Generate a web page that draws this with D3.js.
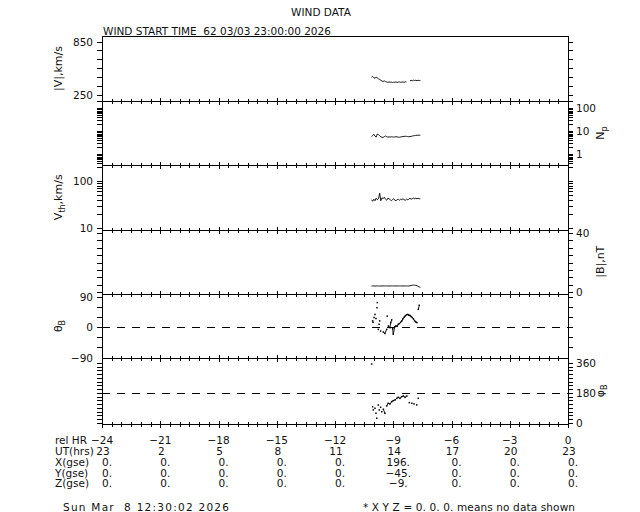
<!DOCTYPE html>
<html><head><meta charset="utf-8">
<script src="https://cdn.jsdelivr.net/npm/d3@7/dist/d3.min.js"></script>
<style>
body{margin:0;background:#fff}
text{font-family:"DejaVu Sans",sans-serif;fill:#111}
</style>
</head><body>
<svg id="chart" width="640" height="512"></svg>
<script>
// ---- data ----
const relHours = [-24,-21,-18,-15,-12,-9,-6,-3,0];
const utHours  = ["23","2","5","8","11","14","17","20","23"];
const xGse = ["0.","0.","0.","0.","0.","196.","0.","0.","0."];
const yGse = ["0.","0.","0.","0.","0.","\u221245.","0.","0.","0."];
const zGse = ["0.","0.","0.","0.","0.","\u22129.","0.","0.","0."];

const hours = [-10.12,-10.06,-10.00,-9.94,-9.88,-9.82,-9.76,-9.70,-9.64,-9.58,-9.52,-9.46,-9.40,-9.34,-9.28,-9.22,-9.16,-9.10,-9.04,-8.98,-8.92,-8.86,-8.80,-8.74,-8.68,-8.62,-8.56,-8.50,-8.44,-8.38,-8.32,-8.26,-8.20,-8.14,-8.08,-8.02,-7.96,-7.90,-7.84,-7.78,-7.72,-7.66,-7.60];
const speed = [445,455,440,432,448,438,428,420,412,402,398,404,396,392,387,393,389,391,386,390,388,392,387,390,393,388,390,392,388,394,391,null,null,404,410,406,412,408,411,407,411,408,410];
const density = [6.0,6.5,7.4,6.2,5.6,7.6,7.2,6.4,5.8,5.5,5.4,5.9,6.2,5.8,5.6,5.7,5.6,5.8,5.7,5.6,5.7,5.8,5.7,5.6,5.5,5.7,5.8,5.9,6.0,6.1,6.0,5.9,5.8,5.9,6.0,6.2,6.4,6.5,6.6,6.7,6.8,6.7,6.8];
const thermal = [40,37,41,38,43,40,42,55,38,44,42,45,41,39,43,42,40,38,40,42,39,38,40,41,39,41,40,42,40,39,41,40,41,43,41,42,43,42,43,42,43,42,42];
const bMag = [4.0,4.1,4.1,4.0,4.1,4.1,4.1,4.0,4.1,4.1,4.1,4.1,4.1,4.1,4.1,4.0,4.1,4.1,4.1,4.1,4.1,4.1,4.1,4.1,4.1,4.1,4.1,4.1,4.1,4.1,4.1,4.1,4.1,4.2,4.4,4.6,4.7,4.6,4.5,4.3,3.8,3.4,3.2];
const thetaHours = [-10.06,-10.04,-9.99,-9.94,-9.89,-9.84,-9.82,-9.77,-9.73,-9.70,-9.65,-9.51,-9.43,-9.34,-9.31,-9.25,-9.17,-9.13,-9.08,-9.03,-9.00,-8.92,-8.86,-8.80,-8.74,-8.68,-8.62,-8.56,-8.50,-8.44,-8.38,-8.32,-8.26,-8.20,-8.14,-8.08,-8.02,-7.96,-7.90,-7.84,-7.78,-7.71,-7.66];
const thetaVals  = [18,14,28,37,25,57,72,-7,8,18,-12,-15,-19,-7,32,3,-2,13,21,-5,-21,1,3,2,8,10,14,18,24,29,33,36,37,35,34,31,28,24,18,15,13,52,64];
const phiHours = [-10.11,-10.06,-10.03,-9.94,-9.89,-9.85,-9.77,-9.72,-9.65,-9.59,-9.51,-9.43,-9.34,-9.26,-9.17,-9.08,-9.00,-8.91,-8.82,-8.74,-8.65,-8.57,-8.48,-8.39,-8.30,-8.17,-8.04,-7.93,-7.79,-7.71];
const phiVals  = [354,96,77,87,57,27,107,77,93,66,81,57,101,117,113,127,133,137,147,153,147,157,161,153,161,121,117,113,107,147];

// ---- layout ----
const svg = d3.select("#chart");
const X0 = 102, X1 = 568;
const x = d3.scaleLinear().domain([-24,0]).range([X0,X1]);
const panelTop = [36,101,165,229.5,294,358], panelBot = [101,165,229.5,294,358,423.5];

const panels = [
  {scale:d3.scaleLinear().domain([250,850]).range([94.5,41.5]), ticks:d3.range(250,851,100), labels:[850,250], side:"left",
   title:["|V|,km/s"], data:hours.map((h,i)=>[h,speed[i]])},
  {scale:d3.scaleLog().domain([1,100]).range([154.3,108.3]), ticks:null, labels:[1,10,100], side:"right",
   title:["N","p"], data:hours.map((h,i)=>[h,density[i]])},
  {scale:d3.scaleLog().domain([10,100]).range([228,181]), ticks:null, labels:[100,10], side:"left",
   title:["V","th",",km/s"], data:hours.map((h,i)=>[h,thermal[i]])},
  {scale:d3.scaleLinear().domain([0,40]).range([292,233]), ticks:d3.range(0,41,5), labels:[40,0], side:"right",
   title:["|B|,nT"], data:hours.map((h,i)=>[h,bMag[i]])},
  {scale:d3.scaleLinear().domain([-90,90]).range([357.5,296.5]), ticks:d3.range(-90,91,30), labels:[90,0,-90], side:"left",
   title:["\u03b8","B"], scatter:thetaHours.map((h,i)=>[h,thetaVals[i]]), dash:0},
  {scale:d3.scaleLinear().domain([0,360]).range([422.7,363]), ticks:d3.range(0,361,22.5), labels:[360,180,0], side:"right",
   title:["\u03c6","B"], scatter:phiHours.map((h,i)=>[h,phiVals[i]]), dash:180}
];

const fmt = v => (v<0 ? "\u2212"+Math.abs(v) : String(v));
const g = svg.append("g").attr("stroke","#000").attr("fill","none").attr("shape-rendering","crispEdges");

panels.forEach((p,i)=>{
  const top = panelTop[i], bot = panelBot[i], y = p.scale;
  g.append("line").attr("x1",X0).attr("x2",X0).attr("y1",top).attr("y2",i==5?bot+3:bot);
  g.append("line").attr("x1",X1).attr("x2",X1).attr("y1",top).attr("y2",i==5?bot+3:bot);
  let tv = p.ticks;
  if (!tv) {
    const a = y.invert(bot), b = y.invert(top);
    tv = [];
    for (let e=-2;e<=3;e++) for (let k=1;k<10;k++){ const v=k*Math.pow(10,e); if (v>=a && v<=b) tv.push(v); }
  }
  tv.forEach(v=>{
    const yy = Math.round(y(v))+0.5;
    if (yy<top || yy>bot) return;
    g.append("line").attr("x1",X0-5).attr("x2",X0).attr("y1",yy).attr("y2",yy);
    g.append("line").attr("x1",X1).attr("x2",X1+5).attr("y1",yy).attr("y2",yy);
  });
  g.append("line").attr("x1",X0).attr("x2",X1).attr("y1",Math.round(bot)+0.5).attr("y2",Math.round(bot)+0.5);
  d3.range(-24,0.01,0.5).forEach(h=>{
    const major = Math.abs(h/3-Math.round(h/3))<1e-6;
    const xx = Math.round(x(h))+0.5, len = major?3:2;
    g.append("line").attr("x1",xx).attr("x2",xx).attr("y1",Math.round(bot)-len).attr("y2",Math.round(bot)+len+1);
  });
  if (i==0) g.append("line").attr("x1",X0).attr("x2",X1).attr("y1",top+0.5).attr("y2",top+0.5);

  p.labels.forEach(v=>{
    svg.append("text").attr("x", p.side=="left"? X0-9 : X1+8).attr("y", y(v)+4)
      .attr("text-anchor", p.side=="left"?"end":"start").attr("font-size",10.5).text(fmt(v));
  });

  const cy = (top+bot)/2, tx = p.side=="left" ? 62 : 604;
  const t = svg.append("text").attr("transform",`translate(${tx},${cy}) rotate(-90)`)
     .attr("text-anchor","middle").attr("font-size",11);
  t.append("tspan").text(p.title[0]);
  if (p.title.length>1) t.append("tspan").attr("font-size",8).attr("dy",3).text(p.title[1]);
  if (p.title.length>2) t.append("tspan").attr("dy",-3).text(p.title[2]);

  if (p.dash!==undefined) {
    g.append("line").attr("x1",X0).attr("x2",X1).attr("y1",Math.round(y(p.dash))+0.5).attr("y2",Math.round(y(p.dash))+0.5)
      .attr("stroke-dasharray","8,7");
  }

  const dg = svg.append("g");
  if (p.data) {
    dg.append("path").datum(p.data)
      .attr("d", d3.line().defined(d=>d[1]!=null).x(d=>x(d[0])).y(d=>y(d[1])))
      .attr("fill","none").attr("stroke","#000").attr("stroke-width",0.9);
  }
  if (p.scatter) {
    const s = p.scatter;
    for (let k=1;k<s.length;k++){
      if (s[k][0]-s[k-1][0] < 0.1 && Math.abs(s[k][1]-s[k-1][1]) < 25 && s[k][0] > -9.5)
        dg.append("line").attr("x1",x(s[k-1][0])).attr("y1",y(s[k-1][1])).attr("x2",x(s[k][0])).attr("y2",y(s[k][1]))
          .attr("stroke","#000").attr("stroke-width",0.9);
    }
    dg.selectAll("rect").data(s).join("rect")
      .attr("x",d=>x(d[0])-0.75).attr("y",d=>y(d[1])-0.75).attr("width",1.5).attr("height",1.5).attr("fill","#000");
  }
});

svg.append("text").attr("x",321).attr("y",16).attr("text-anchor","middle").attr("font-size",10.5).text("WIND DATA");
svg.append("text").attr("x",103).attr("y",35).attr("font-size",10.5).attr("xml:space","preserve").text("WIND START TIME  62 03/03 23:00:00 2026");

const rows = [
  {label:"rel HR", vals:relHours.map(fmt), y:444, dx:0},
  {label:"UT(hrs)", vals:utHours, y:455, dx:1},
  {label:"X(gse)", vals:xGse, y:466, dx:5},
  {label:"Y(gse)", vals:yGse, y:476.5, dx:5},
  {label:"Z(gse)", vals:zGse, y:487, dx:5}
];
rows.forEach(r=>{
  svg.append("text").attr("x",55).attr("y",r.y).attr("font-size",10.5).text(r.label);
  r.vals.forEach((v,k)=>{
    svg.append("text").attr("x",x(relHours[k])+r.dx).attr("y",r.y).attr("text-anchor","middle").attr("font-size",10.5).text(v);
  });
});
svg.append("text").attr("x",63).attr("y",511).attr("font-size",10.5).attr("xml:space","preserve")
  .attr("textLength",166).attr("lengthAdjust","spacing").text("Sun Mar  8 12:30:02 2026");
svg.append("text").attr("x",363).attr("y",511).attr("font-size",10.5).attr("textLength",212).attr("lengthAdjust","spacing")
  .text("* X Y Z = 0. 0. 0. means no data shown");
</script>
</body></html>
